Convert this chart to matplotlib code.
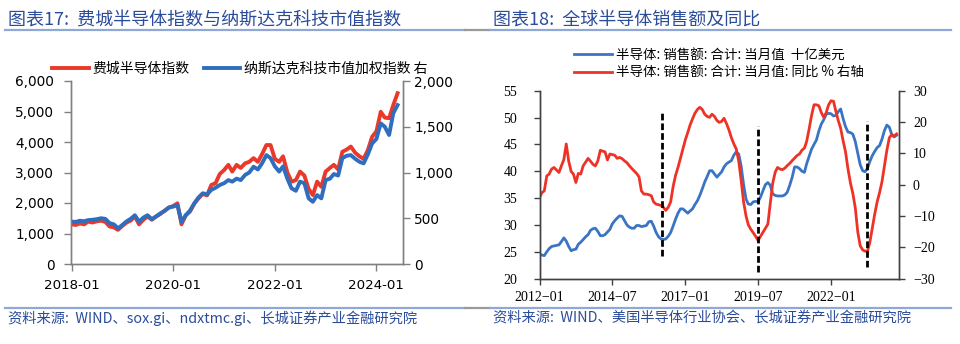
import numpy as np
import pandas as pd
import matplotlib
matplotlib.use('Agg')
import matplotlib.pyplot as plt
from matplotlib.lines import Line2D
from matplotlib.ticker import FuncFormatter

plt.rcParams['font.family'] = ['Noto Sans CJK SC', 'DejaVu Sans']

# ---------------- data: chart 17 ----------------
sox_dates = pd.date_range('2018-01-01', periods=78, freq='MS')
sox = [1300, 1280, 1330, 1300, 1390, 1360, 1400, 1420, 1380, 1230, 1200, 1120,
       1250, 1360, 1420, 1560, 1300, 1450, 1560, 1450, 1560, 1640, 1750, 1850,
       1900, 1990, 1300, 1600, 1720, 1980, 2150, 2300, 2250, 2590, 2650, 2950,
       3080, 3250, 3030, 3250, 3150, 3300, 3350, 3470, 3350, 3600, 3900, 3900,
       3450, 3350, 3530, 3000, 2700, 2750, 3030, 2900, 2460, 2260, 2700, 2530,
       3030, 3150, 3250, 3100, 3680, 3750, 3850, 3650, 3530, 3450, 3740, 4170,
       4350, 4990, 4800, 4780, 5210, 5600]
ndxtmc = [463, 460, 473, 467, 480, 483, 490, 500, 493, 447, 433, 390,
          427, 467, 493, 533, 463, 507, 533, 490, 520, 553, 580, 617,
          627, 643, 463, 533, 583, 663, 727, 773, 760, 810, 833, 863,
          883, 917, 900, 933, 917, 973, 1000, 1063, 1033, 1100, 1190, 1157,
          1067, 1010, 1067, 933, 827, 800, 900, 883, 717, 680, 753, 717,
          917, 933, 983, 967, 1157, 1183, 1190, 1150, 1117, 1100, 1200, 1317,
          1367, 1537, 1500, 1410, 1647, 1737]
left_xticks = ['2018-01', '2020-01', '2022-01', '2024-01']
left_yticks = [0, 1000, 2000, 3000, 4000, 5000, 6000]
left_y2ticks = [0, 500, 1000, 1500, 2000]
label_sox = '费城半导体指数'
label_ndx = '纳斯达克科技市值加权指数 右'

# ---------------- data: chart 18 ----------------
sales_dates = pd.date_range('2012-01-01', periods=148, freq='MS')
sales = [24.6, 24.4, 24.3, 25.0, 25.6, 26.0, 26.1, 26.2, 26.3, 26.9, 27.6, 27.0,
         26.0, 25.2, 25.4, 25.5, 26.4, 26.8, 27.3, 27.8, 28.2, 29.0, 29.3, 29.4,
         28.8, 28.0, 28.0, 28.2, 28.7, 29.2, 30.2, 30.8, 31.3, 31.7, 31.6, 30.8,
         30.0, 29.6, 29.4, 29.4, 29.9, 29.9, 29.7, 29.8, 29.9, 30.6, 30.7, 29.8,
         28.6, 27.8, 27.4, 27.3, 27.4, 27.9, 28.6, 29.8, 31.1, 32.2, 33.0, 33.0,
         32.6, 32.2, 32.6, 33.0, 33.8, 34.5, 35.5, 36.7, 38.0, 39.0, 40.1, 40.1,
         39.5, 38.9, 39.4, 39.9, 40.8, 41.4, 41.7, 42.0, 43.0, 43.6, 43.2, 41.0,
         37.5, 34.8, 33.9, 33.8, 34.3, 34.4, 34.3, 35.2, 36.4, 37.5, 37.9, 37.4,
         35.8, 35.5, 35.4, 35.4, 35.4, 35.6, 36.1, 37.4, 38.9, 40.8, 40.8, 40.5,
         40.0, 39.8, 41.4, 42.8, 44.1, 45.0, 45.8, 47.5, 48.8, 49.6, 50.6, 50.8,
         50.7, 50.3, 50.4, 51.1, 51.6, 49.8, 48.3, 47.3, 47.2, 46.9, 45.5, 43.4,
         41.2, 40.1, 39.9, 40.5, 41.8, 42.9, 43.7, 44.4, 44.8, 46.0, 47.6, 48.6,
         48.2, 46.8, 46.4, 46.7]
yoy = [-4.1, -2.5, -2.0, 2.8, 3.4, 5.0, 5.5, 4.7, 3.9, 6.0, 8.0, 13.0,
       7.5, 4.2, 3.4, 0.7, 3.6, 3.4, 6.0, 7.2, 8.4, 7.5, 6.5, 6.0,
       7.6, 11.0, 10.7, 10.5, 7.9, 9.8, 9.6, 9.4, 8.4, 8.7, 8.3, 7.6,
       7.0, 6.0, 5.2, 4.4, 3.6, 2.5, -2.0, -3.0, -3.0, -3.2, -3.5, -5.5,
       -6.2, -6.4, -6.6, -7.2, -8.2, -7.2, -5.5, -0.6, 3.0, 5.5, 8.5, 11.5,
       14.3, 16.7, 19.0, 21.0, 22.8, 24.0, 24.7, 24.0, 22.5, 21.8, 21.5, 22.5,
       21.8, 20.5, 19.9, 20.2, 21.2, 19.5, 17.5, 15.0, 13.0, 11.4, 7.5, 1.5,
       -5.5, -10.0, -12.8, -14.2, -15.3, -16.5, -17.8, -16.5, -15.2, -14.0, -12.6, -6.0,
       0.5, 4.0, 5.5, 5.0, 4.8, 5.3, 6.1, 6.8, 7.7, 8.5, 9.3, 9.8,
       11.0, 11.7, 13.8, 17.8, 22.0, 25.5, 25.5, 25.2, 23.0, 21.5, 23.0, 25.5,
       26.8, 26.6, 23.5, 20.5, 18.0, 14.0, 10.5, 5.0, 0.5, -2.8, -7.5, -15.0,
       -19.5, -20.8, -21.2, -21.3, -18.5, -14.0, -9.5, -5.5, -2.5, 1.0, 6.0, 11.0,
       15.0, 16.0, 15.6, 16.2]
right_xticks = ['2012-01', '2014-07', '2017-01', '2019-07', '2022-01']
right_yticks = [20, 25, 30, 35, 40, 45, 50, 55]
right_y2ticks = [-30, -20, -10, 0, 10, 20, 30]
trough_dates = ['2016-03-10', '2019-07-01', '2023-04-01']
trough_top = [23.5, 18.6, 20.4]
trough_bottom = [-22.8, -27.9, -26.2]
label_sales = '半导体: 销售额: 合计: 当月值  十亿美元'
label_yoy = '半导体: 销售额: 合计: 当月值: 同比 % 右轴'

title_left = '图表17:  费城半导体指数与纳斯达克科技市值指数'
title_right = '图表18:  全球半导体销售额及同比'
source_left = '资料来源:  WIND、sox.gi、ndxtmc.gi、长城证券产业金融研究院'
source_right = '资料来源:  WIND、美国半导体行业协会、长城证券产业金融研究院'

# ---------------- styling ----------------
RED_L, BLUE_L = '#E8392B', '#2F6DBF'
RED_R, BLUE_R = '#EE3326', '#3A74C4'
TITLE_C = '#2B4C9B'
RULE_BLUE = '#8FA8D8'
RULE_GRAY = '#9A9A9A'
W, H = 960, 344

fig = plt.figure(figsize=(9.6, 3.44), dpi=100)
fig.patch.set_facecolor('white')


def fx(px):
    return px / W


def fy(py):
    return 1 - py / H


# ---------- left chart ----------
ax = fig.add_axes([fx(71), fy(264), fx(403) - fx(71), fy(81) - fy(264)])
ax2 = ax.twinx()
l1, = ax.plot(sox_dates, sox, color=RED_L, lw=2.8, solid_joinstyle='round')
l2, = ax2.plot(sox_dates, ndxtmc, color=BLUE_L, lw=2.8, solid_joinstyle='round')
ax.set_ylim(0, 6000)
ax2.set_ylim(0, 2000)
ax.set_yticks(left_yticks)
ax2.set_yticks(left_y2ticks)
fmt_c = FuncFormatter(lambda v, p: f'{int(v):,}')
ax.yaxis.set_major_formatter(fmt_c)
ax2.yaxis.set_major_formatter(fmt_c)
ax.set_xlim(pd.Timestamp('2017-12-28'), pd.Timestamp('2024-07-10'))
ax.set_xticks(pd.to_datetime(left_xticks))
ax.set_xticklabels(left_xticks)
for a in (ax, ax2):
    a.spines['top'].set_visible(False)
    for s in a.spines.values():
        s.set_color('#808080')
        s.set_linewidth(1.0)
ax.tick_params(axis='y', direction='out', length=5, width=1, color='#808080',
               labelsize=9.8, pad=7, labelfontfamily='DejaVu Sans')
ax.tick_params(axis='x', direction='out', length=5, width=1, color='#808080',
               labelsize=9.6, pad=6, labelfontfamily='DejaVu Sans')
ax2.tick_params(axis='y', direction='out', length=5, width=1, color='#808080',
                labelsize=9.8, pad=3, labelfontfamily='DejaVu Sans')
ax2.legend([l1, l2], [label_sox, label_ndx], loc='center',
           bbox_to_anchor=(fx(240), fy(69)), bbox_transform=fig.transFigure,
           ncol=2, frameon=False, fontsize=10, handlelength=2.6,
           handletextpad=0.3, columnspacing=1.0, borderaxespad=0, borderpad=0)

# ---------- right chart ----------
bx = fig.add_axes([fx(539.5), fy(278.7), fx(899) - fx(539.5), fy(90.7) - fy(278.7)])
bx2 = bx.twinx()
m1, = bx.plot(sales_dates, sales, color=BLUE_R, lw=2.0, solid_joinstyle='round')
m2, = bx2.plot(sales_dates, yoy, color=RED_R, lw=2.0, solid_joinstyle='round')
for d, t, b in zip(trough_dates, trough_top, trough_bottom):
    bx2.plot([pd.Timestamp(d), pd.Timestamp(d)], [b, t], color='black', lw=2.0,
             dashes=(2.4, 1.1), solid_capstyle='butt')
bx.set_ylim(20, 55)
bx2.set_ylim(-30, 30)
bx.set_yticks(right_yticks)
bx2.set_yticks(right_y2ticks)
bx2.yaxis.set_major_formatter(FuncFormatter(lambda v, p: f'{v:.0f}'.replace('-', '\u2212')))
bx.set_xlim(pd.Timestamp('2012-01-01'), pd.Timestamp('2024-05-01'))
bx.set_xticks(pd.to_datetime(right_xticks))
bx.set_xticklabels([t.replace('-', '\u2212') for t in right_xticks])
for a in (bx, bx2):
    a.spines['top'].set_visible(False)
    for s in a.spines.values():
        s.set_color('#404040')
        s.set_linewidth(1.0)
bx.tick_params(axis='y', direction='out', length=4, width=1, color='#404040',
               labelsize=10, pad=12, labelfontfamily='Liberation Serif')
bx.tick_params(axis='x', direction='out', length=4, width=1, color='#404040',
               labelsize=10, pad=5, labelfontfamily='Liberation Serif')
bx2.tick_params(axis='y', direction='out', length=4, width=1, color='#404040',
                labelsize=10, pad=6, labelfontfamily='Liberation Serif')
bx2.legend([m1, m2], [label_sales, label_yoy], loc='center',
           bbox_to_anchor=(fx(719), fy(63.5)), bbox_transform=fig.transFigure,
           ncol=1, frameon=False, fontsize=9.7, handlelength=2.8,
           handletextpad=0.35, labelspacing=0.3, borderaxespad=0, borderpad=0)

# ---------- titles, rules, sources ----------
fig.text(fx(8), fy(20.5), title_left, color=TITLE_C, fontsize=13,
         ha='left', va='center')
fig.text(fx(493), fy(20.5), title_right, color=TITLE_C, fontsize=13,
         ha='left', va='center')
fig.text(fx(8), fy(318.5), source_left, color=TITLE_C, fontsize=10.3,
         ha='left', va='center')
fig.text(fx(493), fy(318.5), source_right, color=TITLE_C, fontsize=10.3,
         ha='left', va='center')

for yy in (30, 308):
    fig.add_artist(Line2D([fx(5), fx(465)], [fy(yy), fy(yy)], color=RULE_BLUE,
                          lw=1.6, transform=fig.transFigure))
    fig.add_artist(Line2D([fx(465), fx(490)], [fy(yy), fy(yy)], color=RULE_GRAY,
                          lw=1.6, transform=fig.transFigure))
    fig.add_artist(Line2D([fx(490), fx(951)], [fy(yy), fy(yy)], color=RULE_BLUE,
                          lw=1.6, transform=fig.transFigure))

fig.savefig('out.png', dpi=100, facecolor='white')
